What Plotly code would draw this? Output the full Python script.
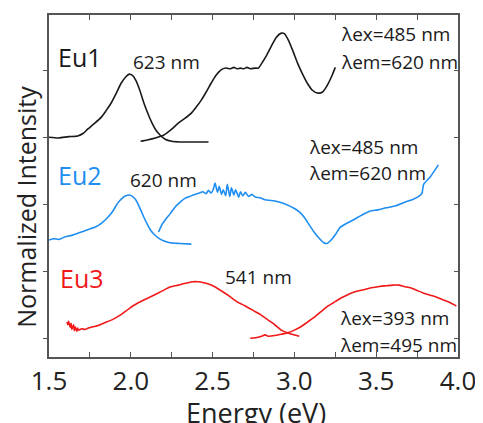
import plotly.graph_objects as go

# ---------------- data (Energy in eV, normalized intensity, offset per sample) -------------
eu1_em_x = [1.50, 1.56, 1.62, 1.675, 1.71, 1.736, 1.78, 1.82, 1.85, 1.88, 1.91, 1.94, 1.97, 1.99, 2.01, 2.03,
            2.055, 2.08, 2.105, 2.13, 2.155, 2.18, 2.21, 2.25, 2.30, 2.36, 2.42, 2.475]
eu1_em_y = [3.00, 2.99, 3.01, 3.02, 3.06, 3.12, 3.21, 3.30, 3.40, 3.51, 3.65, 3.80, 3.90, 3.94, 3.92, 3.85,
            3.70, 3.51, 3.35, 3.21, 3.10, 3.03, 2.97, 2.94, 2.93, 2.93, 2.93, 2.93]

eu1_ex_x = [2.06, 2.10, 2.15, 2.20, 2.25, 2.29, 2.33, 2.37, 2.40, 2.43, 2.46, 2.49, 2.52, 2.55, 2.58, 2.61,
            2.63, 2.65, 2.67, 2.69, 2.71, 2.73, 2.76, 2.78, 2.80, 2.83, 2.86, 2.89, 2.92, 2.94, 2.96, 2.99,
            3.02, 3.05, 3.08, 3.11, 3.14, 3.17, 3.20, 3.23, 3.25]
eu1_ex_y = [2.94, 2.96, 2.99, 3.03, 3.12, 3.21, 3.28, 3.36, 3.45, 3.55, 3.67, 3.80, 3.92, 4.00, 4.03, 4.02,
            4.04, 4.02, 4.03, 4.02, 4.04, 4.02, 4.03, 4.03, 4.10, 4.22, 4.36, 4.49, 4.55, 4.54, 4.46, 4.29,
            4.10, 3.94, 3.80, 3.70, 3.66, 3.67, 3.77, 3.92, 4.04]

eu2_em_x = [1.50, 1.53, 1.56, 1.60, 1.64, 1.675, 1.72, 1.78, 1.82, 1.86, 1.89, 1.92, 1.95, 1.97, 1.99, 2.01,
            2.03, 2.055, 2.08, 2.10, 2.12, 2.145, 2.17, 2.20, 2.24, 2.30, 2.37]
eu2_em_y = [1.47, 1.49, 1.48, 1.52, 1.54, 1.57, 1.61, 1.66, 1.72, 1.81, 1.90, 2.02, 2.10, 2.13, 2.14, 2.12,
            2.07, 1.95, 1.81, 1.71, 1.62, 1.55, 1.50, 1.46, 1.43, 1.42, 1.41]

eu2_ex_x = [2.17, 2.19, 2.21, 2.24, 2.27, 2.30, 2.33, 2.36, 2.39, 2.42, 2.44, 2.46, 2.475, 2.49, 2.505, 2.515,
            2.53, 2.54, 2.555, 2.565, 2.58, 2.59, 2.605, 2.615, 2.63, 2.64, 2.66, 2.67, 2.685, 2.70, 2.72,
            2.74, 2.76, 2.79, 2.82, 2.86, 2.90, 2.95, 3.00, 3.03, 3.06, 3.09, 3.12, 3.15, 3.18, 3.20, 3.22,
            3.25, 3.28, 3.32, 3.36, 3.41, 3.46, 3.51, 3.56, 3.62, 3.67, 3.72, 3.76, 3.78, 3.79, 3.83, 3.88]
eu2_ex_y = [1.59, 1.70, 1.77, 1.86, 1.96, 2.03, 2.09, 2.12, 2.15, 2.17, 2.19, 2.16, 2.21, 2.17, 2.23, 2.32,
            2.18, 2.27, 2.15, 2.22, 2.13, 2.30, 2.12, 2.25, 2.14, 2.22, 2.11, 2.19, 2.13, 2.18, 2.12,
            2.15, 2.11, 2.10, 2.07, 2.06, 2.04, 2.00, 1.94, 1.89, 1.81, 1.70, 1.59, 1.50, 1.43, 1.42, 1.46,
            1.55, 1.66, 1.72, 1.77, 1.84, 1.90, 1.92, 1.95, 1.98, 2.03, 2.07, 2.12, 2.17, 2.30, 2.41, 2.59]

eu3_em_x = [1.61, 1.615, 1.62, 1.63, 1.635, 1.64, 1.65, 1.655, 1.66, 1.67, 1.675, 1.68, 1.70, 1.72, 1.74,
            1.77, 1.80, 1.84, 1.89, 1.94, 1.99, 2.04, 2.09, 2.14, 2.19, 2.24, 2.29, 2.34, 2.38, 2.41, 2.44,
            2.47, 2.51, 2.55, 2.60, 2.65, 2.70, 2.75, 2.80, 2.84, 2.88, 2.92, 2.97, 3.03]
eu3_em_y = [0.25, 0.21, 0.26, 0.17, 0.23, 0.14, 0.21, 0.12, 0.18, 0.11, 0.16, 0.13, 0.15, 0.14, 0.16,
            0.18, 0.20, 0.24, 0.29, 0.36, 0.45, 0.53, 0.59, 0.65, 0.71, 0.77, 0.80, 0.83, 0.85, 0.85, 0.84,
            0.82, 0.78, 0.72, 0.64, 0.55, 0.49, 0.42, 0.35, 0.28, 0.21, 0.13, 0.08, 0.04]

eu3_ex_x = [2.73, 2.77, 2.80, 2.82, 2.84, 2.88, 2.92, 2.96, 3.00, 3.04, 3.08, 3.12, 3.16, 3.20, 3.24, 3.28,
            3.32, 3.37, 3.42, 3.47, 3.52, 3.56, 3.60, 3.64, 3.67, 3.71, 3.75, 3.79, 3.83, 3.87, 3.91, 3.95, 3.99]
eu3_ex_y = [0.01, 0.02, 0.04, 0.06, 0.04, 0.05, 0.07, 0.09, 0.13, 0.18, 0.25, 0.32, 0.40, 0.48, 0.54, 0.60,
            0.65, 0.70, 0.73, 0.76, 0.78, 0.79, 0.80, 0.80, 0.78, 0.76, 0.72, 0.68, 0.65, 0.62, 0.58, 0.54, 0.49]

x_range = [1.5, 4.0]
y_range = [-0.27, 4.82]
x_tickvals = [1.5, 2.0, 2.5, 3.0, 3.5, 4.0]
x_ticktext = ["1.5", "2.0", "2.5", "3.0", "3.5", "4.0"]
y_tickvals = [0, 1, 2, 3, 4]

BLACK = "#1a1a1a"
BLUE = "#1f8ef1"
RED = "#f01818"
FONT = "Open Sans"

fig = go.Figure()
for xs, ys, c in [(eu1_em_x, eu1_em_y, BLACK), (eu1_ex_x, eu1_ex_y, BLACK),
                  (eu2_em_x, eu2_em_y, BLUE), (eu2_ex_x, eu2_ex_y, BLUE),
                  (eu3_em_x, eu3_em_y, RED), (eu3_ex_x, eu3_ex_y, RED)]:
    fig.add_trace(go.Scatter(x=xs, y=ys, mode="lines",
                             line=dict(color=c, width=1.6, shape="spline", smoothing=0.6),
                             showlegend=False, hoverinfo="skip"))

# carrier trace for mirrored axes
fig.add_trace(go.Scatter(x=[None], y=[None], xaxis="x2", yaxis="y2", showlegend=False, hoverinfo="skip"))

AX = "#555555"
# page body has an 8px default margin, so the figure is 8px smaller and shifted
fig.update_layout(
    width=475, height=415,
    margin=dict(l=41, r=21, t=7, b=66),
    paper_bgcolor="white", plot_bgcolor="white",
    font=dict(family=FONT, color="#222222"),
    xaxis=dict(range=x_range, tickvals=x_tickvals, ticktext=x_ticktext, ticks="inside", ticklen=5,
               tickcolor=AX, showline=True, linecolor=AX, linewidth=1.5, showgrid=False, zeroline=False,
               tickfont=dict(size=26, family=FONT, color="#222"),
               minor=dict(dtick=0.25, tick0=1.5, ticks="inside", ticklen=5, tickcolor=AX, showgrid=False)),
    xaxis2=dict(range=x_range, overlaying="x", side="top", dtick=0.25, tick0=1.5, ticks="inside", ticklen=5,
                tickcolor=AX, showline=True, linecolor=AX, linewidth=1.5, showgrid=False, zeroline=False,
                showticklabels=False),
    yaxis=dict(range=y_range, tickvals=y_tickvals, ticks="outside", ticklen=4, tickcolor=AX,
               showticklabels=False, showline=True, linecolor=AX, linewidth=1.5, showgrid=False, zeroline=False),
    yaxis2=dict(range=y_range, overlaying="y", side="right", tickvals=y_tickvals, ticks="inside", ticklen=4,
                tickcolor=AX, showticklabels=False, showline=True, linecolor=AX, linewidth=1.5,
                showgrid=False, zeroline=False),
)

# axis titles
fig.add_annotation(text="Energy (eV)", xref="paper", yref="paper", x=0.505, y=-0.102,
                   xanchor="center", yanchor="top", showarrow=False,
                   font=dict(size=27, family=FONT, color="#222"))
fig.add_annotation(text="Normalized Intensity", xref="paper", yref="paper", x=-0.058, y=0.44,
                   xanchor="center", yanchor="middle", textangle=-90, showarrow=False,
                   font=dict(size=25, family=FONT, color="#222"))

labels = [
    ("Eu1", 1.688, 4.20, "center", 25, BLACK),
    ("623 nm", 2.22, 4.12, "center", 19, BLACK),
    ("λex=485 nm", 3.274, 4.53, "left", 19, BLACK),
    ("λem=620 nm", 3.274, 4.12, "left", 19, BLACK),
    ("Eu2", 1.688, 2.44, "center", 25, BLUE),
    ("620 nm", 2.20, 2.36, "center", 19, BLACK),
    ("λex=485 nm", 3.08, 2.85, "left", 19, BLACK),
    ("λem=620 nm", 3.08, 2.47, "left", 19, BLACK),
    ("Eu3", 1.70, 0.91, "center", 25, RED),
    ("541 nm", 2.78, 0.92, "center", 19, BLACK),
    ("λex=393 nm", 3.268, 0.31, "left", 19, BLACK),
    ("λem=495 nm", 3.268, -0.09, "left", 19, BLACK),
]
for t, x, y, anc, s, c in labels:
    fig.add_annotation(x=x, y=y, text=t, showarrow=False, xanchor=anc, yanchor="middle",
                       font=dict(size=s, family=FONT, color=c))

fig.write_html("out.html")
